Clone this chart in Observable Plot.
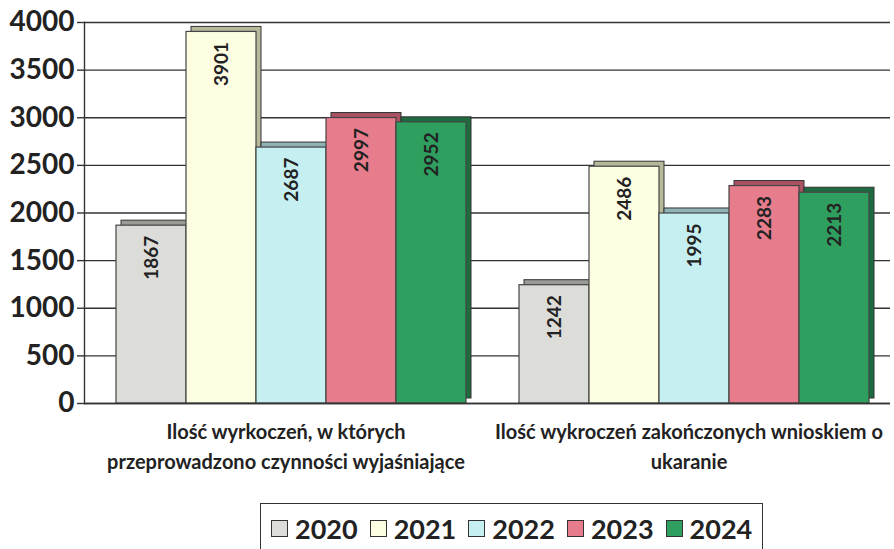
<!DOCTYPE html>
<html>
<head>
<meta charset="utf-8">
<script src="https://cdn.jsdelivr.net/npm/d3@7"></script>
<script src="https://cdn.jsdelivr.net/npm/@observablehq/plot@0.6"></script>
<style>
  body { margin: 0; background: #fff; font-family: Lato, "Open Sans", sans-serif; }
  #chart { width: 894px; }
  #chart svg { display: block; }
  .legend { margin-left: 260px; margin-top: 8px; width: 503px; height: 50px; border: 1.5px solid #333; box-sizing: border-box;
            padding-left: 10px; display: flex; align-items: center; justify-content: flex-start; gap: 12px; font-weight: 700; font-size: 27px; color: #222; }
  .legend span.item { display: flex; align-items: center; gap: 7px; }
  .legend span.sw { width: 15px; height: 15px; border: 1.5px solid #333; display: inline-block; }
</style>
</head>
<body>
<div id="chart"></div>
<script>
const categories = [
  "Ilość wyrkoczeń, w których\nprzeprowadzono czynności wyjaśniające",
  "Ilość wykroczeń zakończonych wnioskiem o\nukaranie"
];
const years = ["2020", "2021", "2022", "2023", "2024"];
const values2020 = [1867, 1242];
const values2021 = [3901, 2486];
const values2022 = [2687, 1995];
const values2023 = [2997, 2283];
const values2024 = [2952, 2213];
const yTicks = [0, 500, 1000, 1500, 2000, 2500, 3000, 3500, 4000];

const fronts = ["#dcdcd9", "#fdfde2", "#c6eff1", "#e67c8c", "#2f9f60"];
const sides  = ["#9a9a96", "#b8b89a", "#8fb3b5", "#a85262", "#1d6b3f"];

const series = [values2020, values2021, values2022, values2023, values2024];
const data = [];
categories.forEach((c, ci) => years.forEach((y, yi) => data.push({cat: c, year: y, value: series[yi][ci]})));

const plot = Plot.plot({
  width: 894,
  height: 495,
  marginLeft: 84,
  marginRight: 4,
  marginTop: 22,
  marginBottom: 92,
  style: {fontFamily: "Lato, 'Open Sans', sans-serif", color: "#222", background: "#fff"},
  fx: {domain: categories, padding: 0, axis: null},
  x: {domain: years, paddingInner: 0, paddingOuter: 0.35, align: 0.6, axis: null},
  y: {domain: [0, 4000], axis: null},
  color: {domain: years, range: fronts},
  marks: [
    Plot.ruleY(yTicks, {stroke: "#333", strokeWidth: 1.4}),
    Plot.axisY({ticks: yTicks, label: null, tickSize: 7, tickPadding: 3, fontSize: 28, fontWeight: 700, stroke: "#333", strokeWidth: 1.4, facetAnchor: "left", tickFormat: d => String(d)}),
    Plot.frame({anchor: "left", stroke: "#333", strokeWidth: 1.4, facetAnchor: "left"}),
    Plot.rectY(data, {fx: "cat", x: "year", y: "value", fill: d => sides[years.indexOf(d.year)], stroke: "#333", strokeWidth: 1, dx: 5, dy: -5}),
    Plot.rectY(data, {fx: "cat", x: "year", y: "value", fill: "year", stroke: "#444", strokeWidth: 1.2}),
    Plot.ruleY([0], {stroke: "#333", strokeWidth: 1.6}),
    Plot.text(data, {fx: "cat", x: "year", y: "value", text: d => String(d.value), rotate: -90, textAnchor: "end", lineAnchor: "middle", dy: 10, fontSize: 19, fontWeight: 700, fill: "#222"}),
    Plot.text(categories, {fx: d => d, text: d => d, frameAnchor: "bottom", lineAnchor: "top", dy: 14, fontSize: 20, fontWeight: 700, lineHeight: 1.5, fill: "#222"})
  ]
});
document.getElementById("chart").appendChild(plot);

const legend = document.createElement("div");
legend.className = "legend";
years.forEach((y, i) => {
  const it = document.createElement("span");
  it.className = "item";
  it.innerHTML = `<span class="sw" style="background:${fronts[i]}"></span>${y}`;
  legend.appendChild(it);
});
document.getElementById("chart").appendChild(legend);
</script>
</body>
</html>
